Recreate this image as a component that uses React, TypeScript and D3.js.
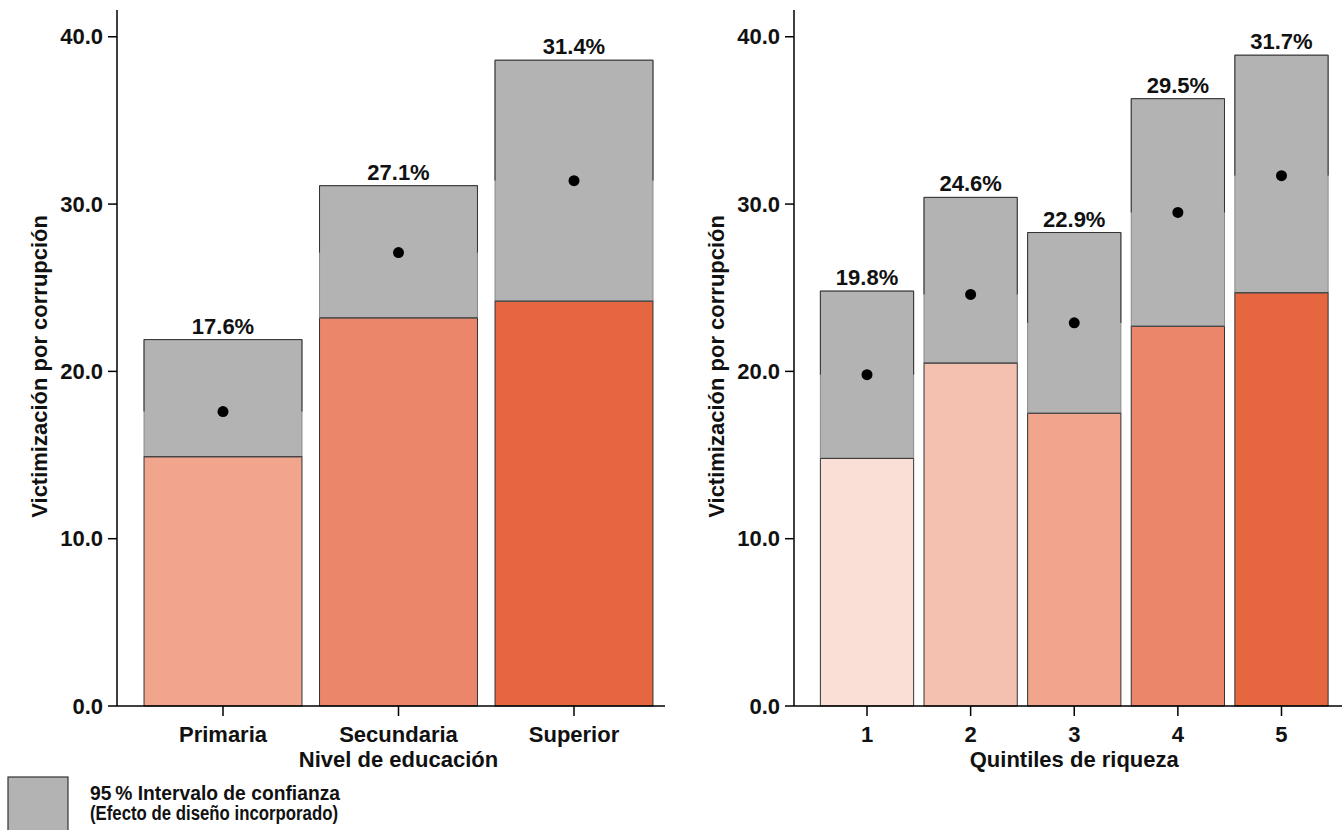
import React from "react";
import * as d3 from "d3";

const eduCats = ["Primaria", "Secundaria", "Superior"];
const eduMeans = [17.6, 27.1, 31.4];
const eduLower = [14.9, 23.2, 24.2];
const eduUpper = [21.9, 31.1, 38.6];
const eduColors = ["#f0a58c", "#ec866a", "#e6673f"];

const wealthCats = ["1", "2", "3", "4", "5"];
const wealthMeans = [19.8, 24.6, 22.9, 29.5, 31.7];
const wealthLower = [14.8, 20.5, 17.5, 22.7, 24.7];
const wealthUpper = [24.8, 30.4, 28.3, 36.3, 38.9];
const wealthColors = ["#f9dfd6", "#f4c0b0", "#f0a58c", "#ec866a", "#e6673f"];

const yTicks = [0, 10, 20, 30, 40];
const yTitle = "Victimización por corrupción";
const legendLines = ["95\u2009% Intervalo de confianza", "(Efecto de diseño incorporado)"];
const legendWidths = [250, 248];

const FONT = "'Liberation Sans', Arial, sans-serif";
const GREY = "#b3b3b3";
const FS = 22;

type PanelProps = {
  cats: string[];
  means: number[];
  lower: number[];
  upper: number[];
  colors: string[];
  axisX: number;
  x0: number;
  x1: number;
  axisEnd: number;
  xTitle: string;
  yTitleX: number;
};

const yScale = d3.scaleLinear().domain([0, 41.6]).range([706, 10]);

function Panel(p: PanelProps) {
  const x = d3
    .scaleBand<string>()
    .domain(p.cats)
    .range([p.x0, p.x1])
    .paddingInner(0.1)
    .paddingOuter(0.05);
  const bw = x.bandwidth();
  const fmt = d3.format(".1f");
  const y0 = yScale(0);
  return (
    <g>
      {p.cats.map((c, i) => {
        const bx = x(c)!;
        const yl = yScale(p.lower[i]);
        const yu = yScale(p.upper[i]);
        const ym = yScale(p.means[i]);
        return (
          <g key={c}>
            <rect x={bx} y={yl} width={bw} height={y0 - yl} fill={p.colors[i]} stroke="#333" strokeWidth={1} />
            <rect x={bx} y={yu} width={bw} height={yl - yu} fill={GREY} stroke="#8a8a8a" strokeWidth={1} />
            <path
              d={`M${bx},${ym}V${yu}H${bx + bw}V${ym}`}
              fill="none"
              stroke="#333"
              strokeWidth={1}
            />
            <line x1={bx} x2={bx + bw} y1={yl} y2={yl} stroke="#333" strokeWidth={1} />
            <circle cx={bx + bw / 2} cy={ym} r={5.5} fill="#000" />
            <text
              x={bx + bw / 2}
              y={yu - 6}
              textAnchor="middle"
              fontFamily={FONT}
              fontWeight="bold"
              fontSize={FS}
              fill="#111"
            >
              {fmt(p.means[i]) + "%"}
            </text>
          </g>
        );
      })}
      <line x1={p.axisX} x2={p.axisX} y1={yScale.range()[1]} y2={y0} stroke="#000" strokeWidth={1.5} />
      {yTicks.map((t) => (
        <g key={t}>
          <line x1={p.axisX - 9} x2={p.axisX} y1={yScale(t)} y2={yScale(t)} stroke="#000" strokeWidth={1.5} />
          <text
            x={p.axisX - 14}
            y={yScale(t)}
            dy="0.35em"
            textAnchor="end"
            fontFamily={FONT}
            fontWeight="bold"
            fontSize={FS}
            fill="#111"
          >
            {fmt(t)}
          </text>
        </g>
      ))}
      <line x1={p.axisX} x2={p.axisEnd} y1={y0} y2={y0} stroke="#000" strokeWidth={1.5} />
      {p.cats.map((c) => {
        const cx = x(c)! + bw / 2;
        return (
          <g key={"t" + c}>
            <line x1={cx} x2={cx} y1={y0} y2={y0 + 10} stroke="#000" strokeWidth={1.5} />
            <text x={cx} y={742} textAnchor="middle" fontFamily={FONT} fontWeight="bold" fontSize={FS} fill="#111">
              {c}
            </text>
          </g>
        );
      })}
      <text
        x={(p.x0 + p.x1) / 2}
        y={767}
        textAnchor="middle"
        fontFamily={FONT}
        fontWeight="bold"
        fontSize={FS}
        fill="#111"
      >
        {p.xTitle}
      </text>
      <text
        transform={`translate(${p.yTitleX},${yScale(20) - 5}) rotate(-90)`}
        textAnchor="middle"
        fontFamily={FONT}
        fontWeight="bold"
        fontSize={FS}
        fill="#111"
      >
        {yTitle}
      </text>
    </g>
  );
}

export default function App() {
  return (
    <svg
      width={1342}
      height={830}
      style={{ position: "absolute", left: 0, top: 0, background: "#fff" }}
    >
      <rect x={0} y={0} width={1342} height={830} fill="#fff" />
      <Panel
        cats={eduCats}
        means={eduMeans}
        lower={eduLower}
        upper={eduUpper}
        colors={eduColors}
        axisX={117}
        x0={135.25}
        x1={661.75}
        axisEnd={665}
        xTitle="Nivel de educación"
        yTitleX={47}
      />
      <Panel
        cats={wealthCats}
        means={wealthMeans}
        lower={wealthLower}
        upper={wealthUpper}
        colors={wealthColors}
        axisX={794}
        x0={815.2}
        x1={1333.3}
        axisEnd={1342}
        xTitle="Quintiles de riqueza"
        yTitleX={724}
      />
      <rect x={8} y={777} width={60} height={60} fill={GREY} stroke="#333" strokeWidth={1.2} />
      {legendLines.map((l, i) => (
        <text
          key={l}
          x={90}
          y={800 + i * 20}
          fontFamily={FONT}
          fontWeight="bold"
          fontSize={19.5}
          textLength={legendWidths[i]}
          lengthAdjust="spacingAndGlyphs"
          fill="#111"
        >
          {l}
        </text>
      ))}
    </svg>
  );
}
